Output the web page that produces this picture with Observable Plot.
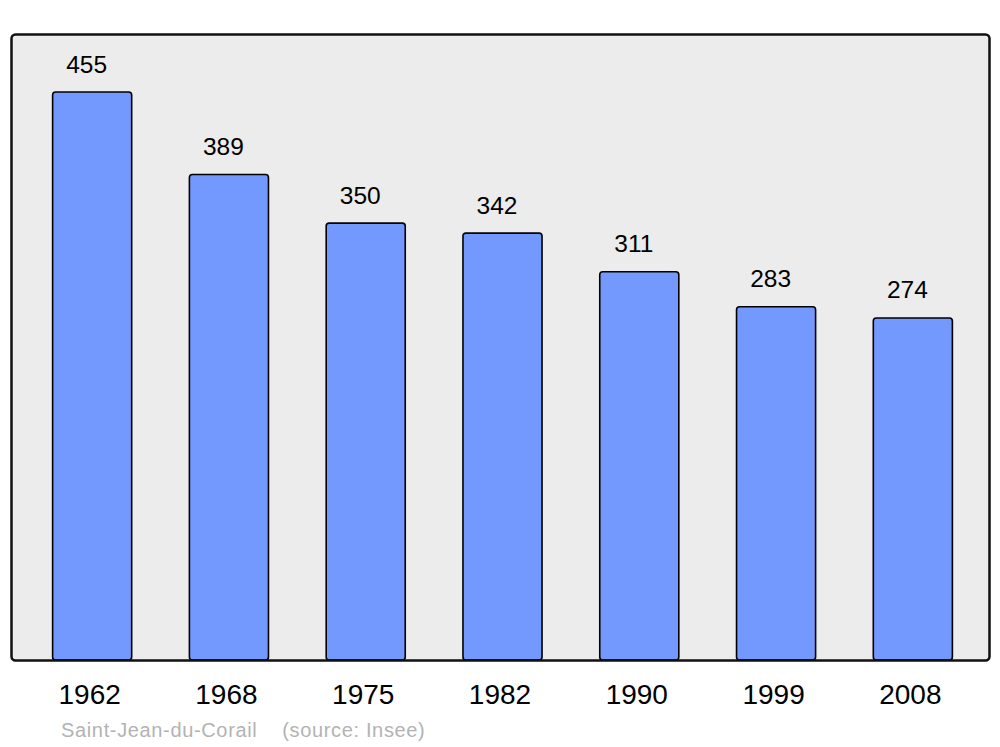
<!DOCTYPE html>
<html>
<head>
<meta charset="utf-8">
<script src="https://cdn.jsdelivr.net/npm/d3@7"></script>
<script src="https://cdn.jsdelivr.net/npm/@observablehq/plot@0.6"></script>
<style>
  html, body { margin: 0; padding: 0; background: #ffffff; }
  body { width: 1000px; height: 747px; overflow: hidden; font-family: "Liberation Sans", Arial, sans-serif; }
  #caption { margin: 0 0 0 61px; padding-top: 3px; font-size: 20px; letter-spacing: 0.65px; color: #b3b3b3; line-height: 30px; white-space: pre; }
  svg { display: block; }
</style>
</head>
<body>
<div id="chart"></div>
<div id="caption">Saint-Jean-du-Corail    (source: Insee)</div>
<script>
const years = ["1962", "1968", "1975", "1982", "1990", "1999", "2008"];
const population = [455, 389, 350, 342, 311, 283, 274];

const data = years.map((y, i) => ({year: y, value: population[i]}));

const chart = Plot.plot({
  width: 1000,
  height: 712,
  marginTop: 34,
  marginBottom: 52,
  marginLeft: 11,
  marginRight: 11,
  style: {fontFamily: "'Liberation Sans', Arial, sans-serif", background: "transparent"},
  x: {domain: years, range: [13.5, 991.5], paddingInner: 0.422, paddingOuter: 0.286, round: false, label: null},
  y: {domain: [0, 501.5], axis: null},
  marks: [
    Plot.frame({fill: "#ececec", stroke: "none", rx: 4}),
    Plot.barY(data, {x: "year", y: "value", fill: "#7399ff", stroke: "#000000", strokeWidth: 1.6, rx: 3}),
    Plot.text(data, {x: "year", y: "value", text: d => String(d.value), lineAnchor: "bottom", dy: -20, dx: -6, fontSize: 24.5, fill: "#000000", style: {letterSpacing: "0.4px"}}),
    Plot.frame({stroke: "#111111", strokeWidth: 2.5, rx: 4}),
    Plot.axisX({tickSize: 0, tickPadding: 24, fontSize: 28, dx: -3, color: "#000000", label: null})
  ]
});
document.getElementById("chart").appendChild(chart);
</script>
</body>
</html>
